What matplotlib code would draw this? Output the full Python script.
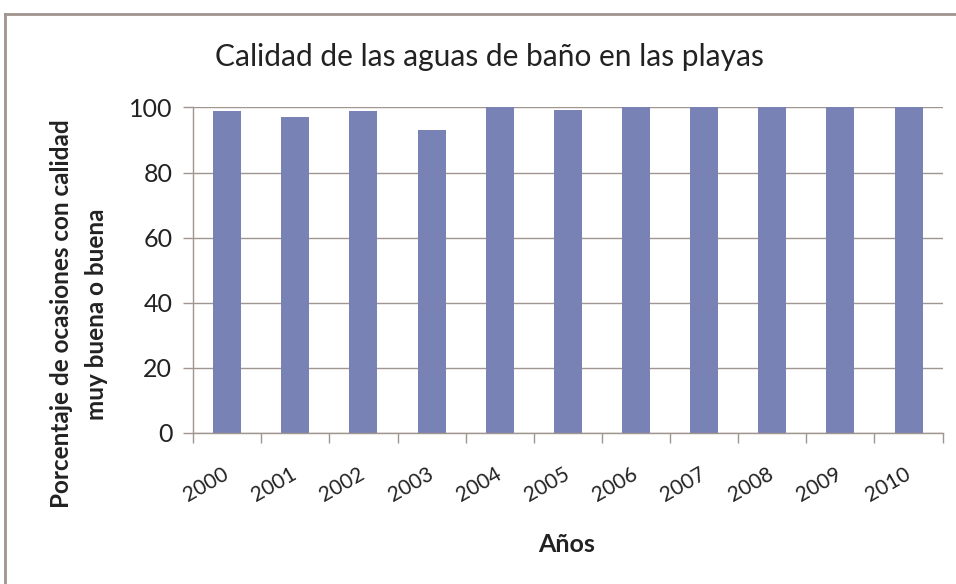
import matplotlib.pyplot as plt
from matplotlib.lines import Line2D

years = ['2000', '2001', '2002', '2003', '2004', '2005',
         '2006', '2007', '2008', '2009', '2010']
porcentaje = [99, 97, 99, 93, 100, 99.3, 100, 100, 100, 100, 100]

plt.rcParams['font.family'] = ['Lato', 'DejaVu Sans']

gris = '#a0958f'
barra = '#7882b5'

fig = plt.figure(figsize=(9.56, 5.84), dpi=100)
ax = fig.add_axes([0.202, 0.259, 0.784, 0.557])

x = list(range(len(years)))
ax.bar(x, porcentaje, width=0.41, color=barra, zorder=2)

ax.set_xlim(-0.5, len(years) - 0.5)
ax.set_ylim(0, 100)
ax.set_yticks([0, 20, 40, 60, 80, 100])
ax.yaxis.grid(True, color=gris, linewidth=1.0, zorder=0)
ax.set_axisbelow(True)

ax.set_xticks([i - 0.5 for i in range(len(years) + 1)], minor=False)
ax.set_xticklabels([])
ax.set_xticks(x, minor=True)
ax.set_xticklabels(years, minor=True, rotation=30, fontsize=15,
                   color='#222222', ha='right', va='center',
                   rotation_mode='anchor')
ax.tick_params(axis='x', which='major', length=7, color=gris, width=1)
ax.tick_params(axis='x', which='minor', length=0, pad=29)
ax.tick_params(axis='y', length=7, color=gris, width=1, labelsize=18,
               labelcolor='#222222', pad=8)

for s in ['top', 'right']:
    ax.spines[s].set_visible(False)
for s in ['left', 'bottom']:
    ax.spines[s].set_color(gris)
    ax.spines[s].set_linewidth(1.0)

# títulos de ejes
fig.text(567 / 956, 0.067, 'Años', fontsize=18, fontweight='bold',
         color='#222222', ha='center', va='center')
fig.text(79 / 956, 1 - 314 / 584,
         'Porcentaje de ocasiones con calidad\nmuy buena o buena',
         fontsize=17.5, fontweight='bold', color='#222222', rotation=90,
         ha='center', va='center', linespacing=1.6, multialignment='center')

fig.text(0.5115, 0.902, 'Calidad de las aguas de baño en las playas',
         ha='center', va='center', fontsize=21.5, color='#222222')

# marco del gráfico
fig.add_artist(Line2D([0.0055, 1.0], [0.976, 0.976], color=gris, lw=2,
                      transform=fig.transFigure))
fig.add_artist(Line2D([0.0055, 0.0055], [0.0, 0.976], color=gris, lw=2,
                      transform=fig.transFigure))

fig.savefig('out.png', dpi=100)
